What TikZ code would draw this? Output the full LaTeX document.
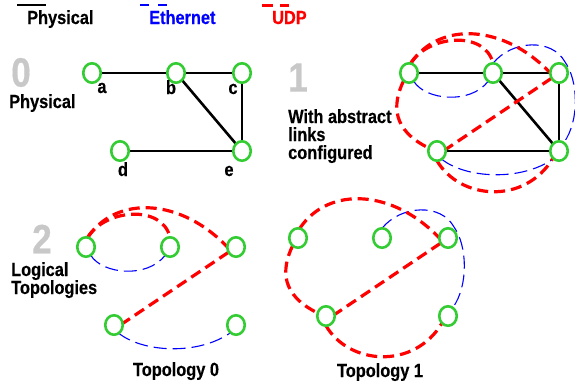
\documentclass[tikz,border=0pt]{standalone}
\usepackage{fontspec}
\setmainfont{Liberation Sans}[FakeStretch=0.86, BoldFeatures={FakeBold=0.4}]
\usetikzlibrary{shapes.geometric}
\pgfdeclarelayer{bg}
\pgfsetlayers{bg,main}
\definecolor{ngreen}{RGB}{51,204,51}
\definecolor{dgray}{RGB}{200,200,200}
\newcommand\placenodes[1]{%
  \node[nd] (a#1) at (409,73) {};
  \node[nd] (b#1) at (493,73) {};
  \node[nd] (c#1) at (559,73) {};
  \node[nd] (d#1) at (437,151) {};
  \node[nd] (e#1) at (559,151) {};}
\begin{document}
\begin{tikzpicture}[x=1pt,y=-1pt,
  font=\fontsize{19}{18}\selectfont\bfseries,
  nd/.style={ellipse, draw=ngreen, line width=2.6pt, fill=white,
    minimum width=17.5pt, minimum height=19.5pt, inner sep=0pt, outer sep=0pt},
  phys/.style={line width=2.6pt, draw=black},
  udp/.style={draw=red, line width=3.2pt, dash pattern=on 11pt off 6pt},
  eth/.style={draw=blue, line width=1.1pt, dash pattern=on 13pt off 6pt},
  txt/.style={inner sep=0pt, anchor=base west},
  lbl/.style={inner sep=0pt, anchor=base},
  big/.style={text=dgray, font=\fontsize{41}{41}\selectfont\bfseries, inner sep=0pt}]
\useasboundingbox (0,0) rectangle (575,388);

% legend
\coordinate (l1a) at (17,5); \coordinate (l1b) at (46,5);
\coordinate (l2a) at (140,5); \coordinate (l2b) at (167,5);
\coordinate (l3a) at (262,5.5); \coordinate (l3b) at (289,5.5);
\draw[phys] (l1a) -- (l1b);
\draw[eth, line width=1.5pt, dash pattern=on 9pt off 9pt] (l2a) -- (l2b);
\draw[udp, dash pattern=on 11pt off 7pt] (l3a) -- (l3b);
\node[txt] (lgp) at (27,24) {Physical};
\node[txt, text=blue] (lge) at (149,24) {Ethernet};
\node[txt, text=red] (lgu) at (272,24) {UDP};

% big numbers and captions
\node[big] (n0) at (21,72.5) {0};
\node[big] (n1) at (298,77.5) {1};
\node[big] (n2) at (42,239) {2};
\node[txt] (t0) at (9,108) {Physical};
\node[txt, align=left] (t1) at (288,159) {With abstract\\links\\configured};
\node[txt, align=left] (t2) at (11,294) {Logical\\Topologies};
\node[lbl] (t3) at (176,376) {Topology 0};
\node[lbl] (t4) at (380,377) {Topology 1};

% section 0
\begin{scope}[xshift=-317pt]
  \placenodes{0}
  \begin{pgfonlayer}{bg}
    \draw[phys] (a0) -- (b0);
    \draw[phys] (b0) -- (c0);
    \draw[phys] (c0) -- (e0);
    \draw[phys] (b0) -- (e0);
    \draw[phys] (d0) -- (e0);
  \end{pgfonlayer}
\end{scope}
\node[lbl] (la) at (102,93) {a};
\node[lbl] (lb) at (171,94) {b};
\node[lbl] (lc) at (233,94) {c};
\node[lbl] (ld) at (123,176) {d};
\node[lbl] (le) at (229,176) {e};

% section 1
\begin{scope}
  \placenodes{1}
  \begin{pgfonlayer}{bg}
    \draw[phys] (a1) -- (b1);
    \draw[phys] (b1) -- (c1);
    \draw[phys] (c1) -- (e1);
    \draw[phys] (b1) -- (e1);
    \draw[phys] (d1) -- (e1);
    \draw[eth] (a1.300) .. controls (425,100) and (470,105) .. (b1.240);
    \draw[eth] (b1.north) .. controls (512,40) and (552,38) .. (565,62) .. controls (578,80) and (580,120) .. (e1.60);
    \draw[eth] (d1.300) .. controls (465,178) and (520,182) .. (e1.235);
    \draw[udp] (a1.80) .. controls (428,35) and (485,30) .. (b1.north);
    \draw[udp] (a1.80) .. controls (440,20) and (505,25) .. (c1.west);
    \draw[udp] (c1.215) -- (d1.10);
    \draw[udp] (a1.235) .. controls (392,105) and (392,130) .. (d1.160);
    \draw[udp] (d1.south) .. controls (460,200) and (525,205) .. (e1.230);
  \end{pgfonlayer}
\end{scope}

% topology 0
\begin{scope}[xshift=-323pt, yshift=-174pt]
  \placenodes{2}
  \begin{pgfonlayer}{bg}
    \draw[eth] (a2.300) .. controls (425,100) and (470,105) .. (b2.240);
    \draw[eth] (d2.300) .. controls (465,178) and (520,182) .. (e2.235);
    \draw[udp] (a2.80) .. controls (428,35) and (485,30) .. (b2.north);
    \draw[udp] (a2.80) .. controls (440,20) and (505,25) .. (c2.west);
    \draw[udp] (c2.215) -- (d2.10);
  \end{pgfonlayer}
\end{scope}

% topology 1
\begin{scope}[xshift=-111pt, yshift=-165pt]
  \placenodes{3}
  \begin{pgfonlayer}{bg}
    \draw[eth] (b3.north) .. controls (512,40) and (552,38) .. (565,62) .. controls (578,80) and (580,120) .. (e3.60);
    \draw[udp] (a3.80) .. controls (440,20) and (505,25) .. (c3.west);
    \draw[udp] (c3.215) -- (d3.10);
    \draw[udp] (a3.235) .. controls (392,105) and (392,130) .. (d3.160);
    \draw[udp] (d3.south) .. controls (460,200) and (525,205) .. (e3.230);
  \end{pgfonlayer}
\end{scope}
\end{tikzpicture}
\end{document}
